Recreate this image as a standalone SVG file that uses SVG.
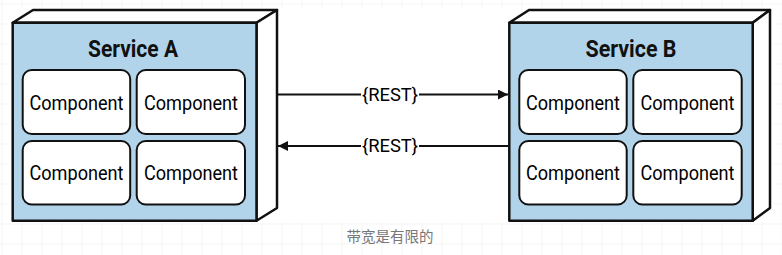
<svg xmlns="http://www.w3.org/2000/svg" width="782" height="255" viewBox="0 0 782 255">
<defs>
<pattern id="grid" width="20" height="20" patternUnits="userSpaceOnUse" x="1.5" y="3.5">
<path d="M0 0 H20 M0 0 V20" fill="none" stroke="#ececec" stroke-width="1"/>
</pattern>
<marker id="arrow" viewBox="0 0 10 10" refX="10" refY="5" markerWidth="10" markerHeight="10" markerUnits="userSpaceOnUse" orient="auto">
<path d="M0 0 L10 5 L0 10 Z" fill="#111"/>
</marker>
<style>
.front{fill:#b1d4ea;stroke:#111;stroke-width:2.5;stroke-linejoin:round}
.face{fill:#fff;stroke:#111;stroke-width:2.5;stroke-linejoin:round}
.comp{fill:#fff;stroke:#111;stroke-width:2}
.title{font-family:Roboto,"Liberation Sans",Arial,sans-serif;font-weight:bold;font-size:24px;fill:#111;text-anchor:middle}
.ctext{font-family:Roboto,"Liberation Sans",Arial,sans-serif;font-weight:400;font-size:19.5px;fill:#000;text-anchor:middle}
.lbl{font-family:Roboto,"Liberation Sans",Arial,sans-serif;font-weight:400;font-size:18px;fill:#000;text-anchor:middle}
.cap{font-family:"Liberation Sans","Noto Sans CJK SC",sans-serif;font-size:14.5px;fill:#777;text-anchor:middle}
.conn{stroke:#111;stroke-width:2;fill:none}
</style>
</defs>
<rect width="782" height="255" fill="#fff"/>
<rect width="782" height="255" fill="url(#grid)"/>
<rect x="8" y="7" width="766" height="215" fill="#fff"/>

<g id="serviceA">
<path class="face" d="M12.7 22.7 L33 10 L277 10 L256.5 22.7 Z"/>
<path class="face" d="M256.5 22.7 L277 10 L277 208 L256.5 220.7 Z"/>
<rect class="front" x="12.7" y="22.7" width="243.8" height="198"/>
<text class="title" x="133" y="57" textLength="90" lengthAdjust="spacingAndGlyphs">Service A</text>
<rect class="comp" x="22.7" y="70" width="107.5" height="64" rx="9"/>
<text class="ctext" x="76.5" y="109.5" textLength="94" lengthAdjust="spacingAndGlyphs">Component</text>
<rect class="comp" x="136.7" y="70" width="108.3" height="64" rx="9"/>
<text class="ctext" x="191" y="109.5" textLength="94" lengthAdjust="spacingAndGlyphs">Component</text>
<rect class="comp" x="22.7" y="141" width="107.5" height="63.5" rx="9"/>
<text class="ctext" x="76.5" y="180" textLength="94" lengthAdjust="spacingAndGlyphs">Component</text>
<rect class="comp" x="136.7" y="141" width="108.3" height="63.5" rx="9"/>
<text class="ctext" x="191" y="180" textLength="94" lengthAdjust="spacingAndGlyphs">Component</text>
</g>

<g id="serviceB">
<path class="face" d="M509.3 22.7 L529 10 L770 10 L752.7 22.7 Z"/>
<path class="face" d="M752.7 22.7 L770 10 L770 208 L752.7 220.7 Z"/>
<rect class="front" x="509.3" y="22.7" width="243.4" height="198"/>
<text class="title" x="631" y="57" textLength="91" lengthAdjust="spacingAndGlyphs">Service B</text>
<rect class="comp" x="519.3" y="70" width="107.4" height="64" rx="9"/>
<text class="ctext" x="573" y="109.5" textLength="94" lengthAdjust="spacingAndGlyphs">Component</text>
<rect class="comp" x="633.3" y="70" width="108.4" height="64" rx="9"/>
<text class="ctext" x="687.5" y="109.5" textLength="94" lengthAdjust="spacingAndGlyphs">Component</text>
<rect class="comp" x="519.3" y="141" width="107.4" height="63.5" rx="9"/>
<text class="ctext" x="573" y="180" textLength="94" lengthAdjust="spacingAndGlyphs">Component</text>
<rect class="comp" x="633.3" y="141" width="108.4" height="63.5" rx="9"/>
<text class="ctext" x="687.5" y="180" textLength="94" lengthAdjust="spacingAndGlyphs">Component</text>
</g>

<g id="connectors">
<path class="conn" d="M277 94.5 H508" marker-end="url(#arrow)"/>
<rect x="361" y="84" width="58" height="21" fill="#fff"/>
<text class="lbl" x="390" y="100.5" textLength="56" lengthAdjust="spacingAndGlyphs">{REST}</text>
<path class="conn" d="M509 146 H278" marker-end="url(#arrow)"/>
<rect x="361" y="135.5" width="58" height="21" fill="#fff"/>
<text class="lbl" x="390" y="152" textLength="56" lengthAdjust="spacingAndGlyphs">{REST}</text>
</g>

<text class="cap" x="390" y="241.5">带宽是有限的</text>
</svg>
